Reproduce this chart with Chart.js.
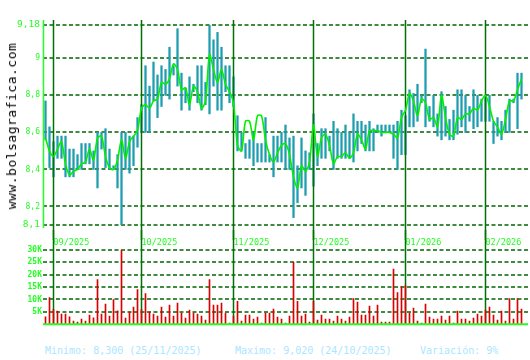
<!DOCTYPE html>
<html><head><meta charset="utf-8">
<script src="https://cdn.jsdelivr.net/npm/chart.js@4.4.1/dist/chart.umd.min.js"></script>
<style>
html,body{margin:0;padding:0;background:#fff;}
#wrap{position:relative;width:530px;height:360px;overflow:hidden;background:#fff;}
canvas{position:absolute;left:0;}
#cp{top:0;}
#cv{top:230px;}
.ft{position:absolute;top:345px;font:10px 'DejaVu Sans Mono',monospace;line-height:12px;color:#aae6ff;white-space:pre;}
#wm{position:absolute;left:12px;top:126px;transform:translate(-50%,-50%) rotate(-90deg);white-space:nowrap;font:13px 'DejaVu Sans Mono',monospace;letter-spacing:0.5px;color:#000;line-height:14px;}
</style></head>
<body><div id="wrap">
<canvas id="cp" width="530" height="240"></canvas>
<canvas id="cv" width="530" height="100"></canvas>
<div id="wm">www.bolsagrafica.com</div>
<div class="ft" style="left:45px">Minimo: 8,300 (25/11/2025)</div>
<div class="ft" style="left:235px">Maximo: 9,020 (24/10/2025)</div>
<div class="ft" style="left:420px">Variación: 9%</div>
</div>
<script>
const highs = [8.77,8.63,8.55,8.58,8.58,8.58,8.51,8.51,8.48,8.54,
8.54,8.54,8.50,8.60,8.60,8.62,8.51,8.42,8.48,8.60,
8.60,8.58,8.58,8.68,8.75,8.96,8.85,8.98,8.91,8.96,
8.94,9.06,8.96,9.16,8.92,8.84,8.90,8.86,8.96,8.96,
8.87,9.18,9.10,9.14,9.06,8.96,8.96,8.90,8.69,8.60,
8.54,8.56,8.60,8.54,8.54,8.68,8.48,8.58,8.58,8.60,
8.64,8.57,8.58,8.42,8.57,8.50,8.49,8.70,8.54,8.62,
8.62,8.58,8.66,8.62,8.60,8.64,8.60,8.70,8.66,8.66,
8.64,8.66,8.62,8.64,8.64,8.64,8.64,8.64,8.66,8.72,
8.69,8.83,8.81,8.86,8.80,9.05,8.74,8.80,8.70,8.82,
8.74,8.67,8.72,8.83,8.83,8.80,8.74,8.83,8.80,8.78,
8.80,8.80,8.66,8.68,8.66,8.72,8.78,8.78,8.92,8.92];
const lows = [8.56,8.41,8.36,8.46,8.46,8.36,8.36,8.36,8.40,8.40,
8.43,8.43,8.40,8.30,8.51,8.41,8.40,8.40,8.30,8.10,
8.40,8.38,8.42,8.52,8.60,8.60,8.60,8.77,8.68,8.74,
8.80,8.78,8.91,8.85,8.72,8.76,8.72,8.82,8.76,8.72,
8.75,8.70,8.85,8.72,8.72,8.82,8.76,8.74,8.50,8.50,
8.46,8.46,8.42,8.44,8.44,8.44,8.44,8.36,8.44,8.44,
8.40,8.40,8.14,8.22,8.30,8.26,8.40,8.31,8.42,8.46,
8.46,8.50,8.40,8.46,8.46,8.46,8.46,8.44,8.50,8.54,
8.50,8.50,8.50,8.60,8.58,8.60,8.60,8.46,8.40,8.48,
8.48,8.63,8.63,8.66,8.76,8.63,8.66,8.63,8.58,8.56,
8.58,8.56,8.56,8.59,8.63,8.60,8.66,8.62,8.63,8.66,
8.66,8.66,8.54,8.58,8.56,8.60,8.60,8.76,8.62,8.78];
const closes = [8.57,8.50,8.47,8.51,8.55,8.43,8.37,8.39,8.40,8.43,
8.44,8.51,8.45,8.57,8.58,8.47,8.41,8.40,8.45,8.56,
8.46,8.55,8.58,8.61,8.73,8.75,8.73,8.77,8.78,8.87,
8.86,8.89,8.97,8.94,8.83,8.84,8.75,8.85,8.82,8.73,
8.77,9.02,8.94,8.87,8.94,8.86,8.82,8.76,8.53,8.50,
8.66,8.66,8.56,8.69,8.69,8.56,8.48,8.44,8.49,8.53,
8.54,8.48,8.36,8.30,8.42,8.39,8.44,8.64,8.47,8.57,
8.59,8.53,8.43,8.47,8.47,8.49,8.46,8.49,8.59,8.56,
8.51,8.61,8.61,8.61,8.60,8.60,8.60,8.59,8.57,8.68,
8.72,8.81,8.77,8.69,8.78,8.76,8.67,8.68,8.63,8.80,
8.68,8.59,8.58,8.68,8.67,8.70,8.70,8.73,8.72,8.77,
8.80,8.74,8.66,8.63,8.59,8.67,8.77,8.77,8.83,8.89];
const volumesK = [3.0,10.8,6.0,5.3,4.1,4.1,3.0,1.3,0.9,2.1,
1.3,3.7,2.6,18.0,4.1,8.1,3.3,10.0,5.4,30.0,
2.5,4.9,6.9,14.0,6.0,12.4,4.9,4.1,3.3,6.9,
2.9,7.7,3.3,8.5,4.5,2.5,5.7,4.5,4.1,3.3,
1.7,18.0,7.7,7.7,8.5,4.5,0.5,3.3,9.2,1.3,
3.7,3.7,2.1,2.9,0.5,4.5,4.5,6.1,2.9,2.1,
0.5,3.3,25.0,9.2,3.3,4.1,0.9,9.2,1.7,3.7,
2.1,2.1,1.3,3.3,2.1,1.3,2.9,10.4,8.9,3.7,
3.7,7.3,3.3,7.7,0.9,0.9,0.9,22.3,12.8,15.2,
15.6,4.5,6.5,1.3,0.5,8.1,2.9,2.1,2.1,3.3,
1.7,3.3,0.5,5.3,2.1,2.1,1.3,2.5,4.1,3.3,
5.7,6.9,3.7,1.7,5.3,1.3,10.4,2.1,10.4,6.1];
const monthIdx = [2,24,47,67,90,110];
const monthLabels = ['09/2025','10/2025','11/2025','12/2025','01/2026','02/2026'];
const priceTicks = [8.1,8.2,8.4,8.6,8.8,9,9.18];
const priceTickLabels = ['8,1','8,2','8,4','8,6','8,8','9','9,18'];
const volTicks = [5,10,15,20,25,30];
const volTickLabels = ['5K','10K','15K','20K','25K','30K'];

Chart.defaults.font.family = "'DejaVu Sans Mono', monospace";
Chart.defaults.animation = false;

const GRID = '#006600', MONTH = '#007000', BRIGHT = '#22ff22';
const X_MIN = -0.625, X_MAX = 120.625;

function dashedGrid(chart) {
  const {ctx, scales: {x, y}} = chart;
  ctx.save();
  ctx.strokeStyle = GRID; ctx.lineWidth = 1.5; ctx.setLineDash([4, 2.5]);
  y.ticks.forEach(t => {
    const py = Math.round(y.getPixelForValue(t.value));
    ctx.beginPath(); ctx.moveTo(x.left, py); ctx.lineTo(x.right, py); ctx.stroke();
  });
  ctx.restore();
}

const priceLines = {
  id: 'priceLines',
  beforeDatasetsDraw(chart) { dashedGrid(chart); },
  afterDatasetDraw(chart, args) {
    if (args.index !== 0) return;
    const {ctx, scales: {x}} = chart;
    ctx.save();
    ctx.strokeStyle = MONTH; ctx.lineWidth = 1.5;
    monthIdx.forEach(v => {
      const px = x.getPixelForValue(v);
      ctx.beginPath(); ctx.moveTo(px, 20); ctx.lineTo(px, chart.height); ctx.stroke();
    });
    ctx.strokeStyle = BRIGHT; ctx.lineWidth = 1.5;
    ctx.beginPath(); ctx.moveTo(x.left + 0.5, 20); ctx.lineTo(x.left + 0.5, 228); ctx.stroke();
    ctx.restore();
  }
};

new Chart(document.getElementById('cp'), {
  type: 'bar',
  data: {
    datasets: [
      { type: 'bar', order: 2, data: highs.map((h, i) => ({x: i, y: [lows[i], h]})),
        backgroundColor: '#1c9db0', borderWidth: 0, barThickness: 1.6, grouped: false },
      { type: 'line', order: 1, data: closes.map((c, i) => ({x: i, y: c})),
        borderColor: '#00f000', borderWidth: 1.6, pointRadius: 0, tension: 0.3, fill: false }
    ]
  },
  options: {
    responsive: false, devicePixelRatio: 1, events: [],
    layout: { padding: {left: 0, right: 2, top: 25, bottom: 15} },
    plugins: { legend: {display: false}, tooltip: {enabled: false} },
    scales: {
      x: { type: 'linear', min: X_MIN, max: X_MAX, offset: false, display: false },
      y: {
        min: 8.1, max: 9.18,
        afterFit: s => { s.width = 43; },
        afterBuildTicks: s => { s.ticks = priceTicks.map(v => ({value: v})); },
        border: {display: false},
        grid: { display: false, drawTicks: false },
        ticks: {
          padding: 3, color: BRIGHT,
          callback: (v, i) => priceTickLabels[i],
          font: c => ({ family: "'DejaVu Sans Mono', monospace",
            size: (c.index === 0 || c.index === priceTicks.length - 1) ? 9.5 : 8 })
        }
      }
    }
  },
  plugins: [priceLines]
});

const volLines = {
  id: 'volLines',
  beforeDatasetsDraw(chart) {
    dashedGrid(chart);
    const {ctx, scales: {x}, chartArea} = chart;
    ctx.save();
    ctx.strokeStyle = MONTH; ctx.lineWidth = 1.5;
    monthIdx.forEach(v => {
      const px = x.getPixelForValue(v);
      ctx.beginPath(); ctx.moveTo(px, 0); ctx.lineTo(px, chartArea.bottom); ctx.stroke();
    });
    ctx.restore();
  },
  afterDatasetsDraw(chart) {
    const {ctx, scales: {x, y}} = chart;
    const py = y.getPixelForValue(0);
    ctx.save();
    ctx.strokeStyle = BRIGHT; ctx.lineWidth = 2;
    ctx.beginPath(); ctx.moveTo(x.left, py); ctx.lineTo(x.right, py); ctx.stroke();
    ctx.restore();
  }
};

new Chart(document.getElementById('cv'), {
  type: 'bar',
  data: {
    datasets: [
      { data: volumesK.map((v, i) => ({x: i, y: v})), backgroundColor: '#dd0000',
        borderWidth: 0, barThickness: 1, grouped: false }
    ]
  },
  options: {
    responsive: false, devicePixelRatio: 1, events: [],
    layout: { padding: {left: 0, right: 2, top: 0, bottom: 4} },
    plugins: { legend: {display: false}, tooltip: {enabled: false} },
    scales: {
      x: {
        type: 'linear', min: X_MIN, max: X_MAX, offset: false, position: 'top',
        afterFit: s => { s.height = 20; },
        afterBuildTicks: s => { s.ticks = monthIdx.map(v => ({value: v})); },
        grid: {display: false}, border: {display: false},
        ticks: { align: 'start', padding: -6, autoSkip: false, maxRotation: 0, color: BRIGHT,
          font: {size: 8.5}, callback: (v, i) => monthLabels[i] }
      },
      y: {
        min: 0, max: 30,
        afterFit: s => { s.width = 43; },
        afterBuildTicks: s => { s.ticks = volTicks.map(v => ({value: v})); },
        border: {display: false},
        grid: { display: false, drawTicks: false },
        ticks: { padding: 1, color: BRIGHT, font: {size: 8, weight: 'bold'},
          callback: (v, i) => volTickLabels[i] }
      }
    }
  },
  plugins: [volLines]
});
</script>
</body></html>
